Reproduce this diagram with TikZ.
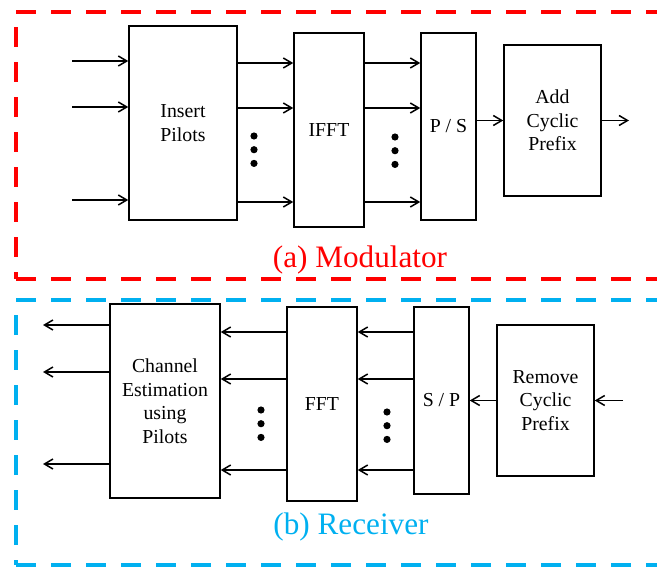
\documentclass[tikz,border=0pt]{standalone}
\usepackage{fontspec}
\setmainfont{Liberation Serif}
\usepackage{tikz}
\usetikzlibrary{arrows.meta}
\definecolor{modred}{HTML}{FF0000}
\definecolor{rxblue}{HTML}{00B0F0}
\tikzset{
  block/.style={
    draw,
    line width=1.5pt,
    align=center,
    inner sep=2pt,
    font=\fontsize{19.8}{23.7}\selectfont
  },
  sigline/.style={
    -{Straight Barb[length=8.5pt,width=10pt]},
    line width=1.5pt
  },
  modframe/.style={
    draw=modred,
    line width=4pt,
    dash pattern=on 20pt off 15pt
  },
  rxframe/.style={
    modframe,
    draw=rxblue
  },
  framelabel/.style={
    anchor=base,
    font=\fontsize{31.2}{37}\selectfont
  }
}

\begin{document}
\begin{tikzpicture}[x=1pt,y=-1pt]
    \useasboundingbox (0,0) rectangle (657,567);
    \clip (0,0) rectangle (657,567);

    \node[block, minimum width=108pt, minimum height=194pt] (pilots) at (183,123) {Insert\\Pilots};
    \node[block, minimum width=70pt, minimum height=194pt] (ifft) at (329,130) {IFFT};
    \node[block, minimum width=55pt, minimum height=187pt] (ps) at (448.5,126.5) {P / S};
    \node[block, minimum width=97pt, minimum height=151pt] (addcp) at (552.5,120.5) {Add\\Cyclic\\Prefix};

    \foreach \y [count=\i] in {61,107,200} {
        \coordinate (txin\i) at (72,\y);
        \draw[sigline] (txin\i) -- (pilots.west |- txin\i);
    }
    \foreach \y in {63,108,202} {
        \draw[sigline] (pilots.east |- 0,\y) -- (ifft.west |- 0,\y);
        \draw[sigline] (ifft.east |- 0,\y) -- (ps.west |- 0,\y);
    }
    \draw[sigline] (ps.east |- addcp.west) -- (addcp.west);
    \coordinate (txout) at (629,120.5);
    \draw[sigline] (addcp.east) -- (txout);

    \node[block, minimum width=110pt, minimum height=194pt, text depth=-4pt] (chest) at (165,401) {Channel\\Estimation\\using\\Pilots};
    \node[block, minimum width=70pt, minimum height=194pt] (fft) at (322,404) {FFT};
    \node[block, minimum width=55pt, minimum height=187pt] (sp) at (441.5,400.5) {S / P};
    \node[block, minimum width=97pt, minimum height=151pt] (rmcp) at (545.5,400.5) {Remove\\Cyclic\\Prefix};

    \foreach \y [count=\i] in {325,372,464} {
        \coordinate (rxout\i) at (43,\y);
        \draw[sigline] (chest.west |- rxout\i) -- (rxout\i);
    }
    \foreach \y in {332,379,470} {
        \draw[sigline] (fft.west |- 0,\y) -- (chest.east |- 0,\y);
        \draw[sigline] (sp.west |- 0,\y) -- (fft.east |- 0,\y);
    }
    \draw[sigline] (rmcp.west) -- (sp.east |- rmcp.west);
    \coordinate (rxin) at (623,400.5);
    \draw[sigline] (rxin) -- (rmcp.east);

    \foreach \x/\y in {254/136, 395/137, 261/410, 387/412}
        \foreach \d in {0,13.7,27.4}
            \fill (\x,\y+\d) circle (3.6pt);

    \draw[modframe] (16,12.3) -- (700,12.3);
    \draw[modframe, dash phase=20pt] (16,12.3) -- (16,279);
    \draw[modframe] (16,279) -- (700,279);
    \node[framelabel, text=modred] (modlabel) at (360,268) {(a) Modulator};

    \draw[rxframe] (16,300.3) -- (700,300.3);
    \draw[rxframe, dash phase=20pt] (16,300.3) -- (16,565);
    \draw[rxframe] (16,565) -- (700,565);
    \node[framelabel, text=rxblue] (rxlabel) at (351,534) {(b) Receiver};
\end{tikzpicture}
\end{document}
